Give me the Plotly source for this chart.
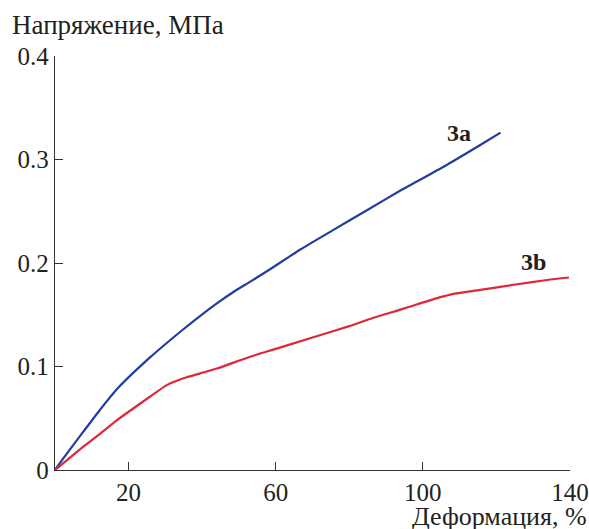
import plotly.graph_objects as go

# Data
strain_3a = [0, 2, 7.7, 12.2, 16.8, 25.9, 34.9, 39.5, 44.0, 48.5, 53.1, 57.6, 66.7, 75.7,
             84.8, 93.9, 97.5, 106.6, 115.6, 121.1]
stress_3a = [0, 0.010, 0.037, 0.058, 0.078, 0.109, 0.136, 0.149, 0.161, 0.172, 0.182, 0.192,
             0.213, 0.232, 0.251, 0.270, 0.277, 0.295, 0.314, 0.326]

strain_3b = [0, 2, 7.7, 12.2, 16.8, 25.9, 30.4, 34.9, 39.5, 44.0, 53.1, 60, 70, 80, 84.8,
             93.9, 97.5, 104.8, 108, 115.6, 124.7, 133.8, 139.7]
stress_3b = [0, 0.006, 0.0225, 0.035, 0.048, 0.071, 0.082, 0.0886, 0.0934, 0.098, 0.1095,
             0.117, 0.128, 0.139, 0.145, 0.155, 0.159, 0.167, 0.170, 0.174, 0.179, 0.1836, 0.186]

x_ticks = [20, 60, 100, 140]
y_ticks = [0, 0.1, 0.2, 0.3, 0.4]
y_tick_text = ["0", "0.1", "0.2", "0.3", "0.4"]

series_labels = ["3a", "3b"]
label_pos_x = [109.7, 130]
label_pos_y = [0.326, 0.201]

FONT = "Liberation Serif"
TXT = "#231f20"

fig = go.Figure()
fig.add_trace(go.Scatter(x=strain_3a, y=stress_3a, mode="lines",
                         line=dict(color="rgb(35,60,160)", width=2.2, shape="spline",
                                   smoothing=0.6), showlegend=False))
fig.add_trace(go.Scatter(x=strain_3b, y=stress_3b, mode="lines",
                         line=dict(color="rgb(222,40,55)", width=2.2, shape="spline",
                                   smoothing=0.6), showlegend=False))

for t, lx, ly in zip(series_labels, label_pos_x, label_pos_y):
    fig.add_annotation(x=lx, y=ly, text=f"<b>{t}</b>", showarrow=False,
                       font=dict(family=FONT, size=24, color=TXT))

fig.add_annotation(xref="paper", yref="paper", x=-0.0874, y=1.075, xanchor="left",
                   yanchor="middle", text="Напряжение, МПа", showarrow=False,
                   font=dict(family=FONT, size=27, color=TXT))
fig.add_annotation(xref="paper", yref="paper", x=1.036, y=-0.112, xanchor="right",
                   yanchor="middle", text="Деформация, %", showarrow=False,
                   font=dict(family=FONT, size=26, color=TXT))

fig.update_xaxes(range=[0, 140], tickvals=x_ticks, ticks="inside", ticklen=8,
                 tickcolor="#333", tickwidth=1.3, showline=True, linecolor="#333",
                 linewidth=1.3, showgrid=False, zeroline=False, ticklabeloverflow="allow",
                 automargin=False, tickfont=dict(family=FONT, size=25, color=TXT))
fig.update_yaxes(range=[0, 0.4], tickvals=y_ticks, ticktext=y_tick_text, ticks="inside",
                 ticklen=8, tickcolor="#333", tickwidth=1.3, showline=True, linecolor="#333",
                 linewidth=1.3, showgrid=False, zeroline=False, ticklabeloverflow="allow",
                 automargin=False, tickfont=dict(family=FONT, size=25, color=TXT))

fig.update_layout(width=589, height=529, margin=dict(l=55, r=19, t=56, b=59),
                  plot_bgcolor="white", paper_bgcolor="white",
                  font=dict(family=FONT))

fig.write_html("out.html")
